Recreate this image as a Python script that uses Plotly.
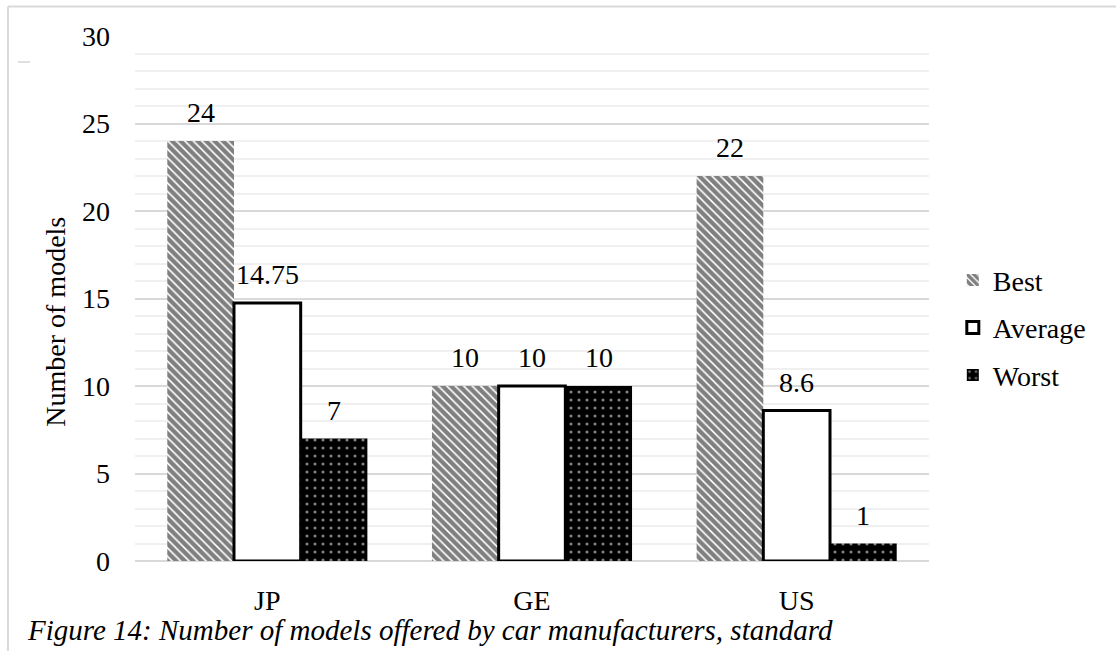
import plotly.graph_objects as go

categories = ["JP", "GE", "US"]
best = [24, 10, 22]
average = [14.75, 10, 8.6]
worst = [7, 10, 1]
series_names = ["Best", "Average", "Worst"]
caption = "Figure 14: Number of models offered by car manufacturers, standard"
y_title = "Number of models"

FONT = "Liberation Serif, Tinos, Nimbus Roman, Noto Serif, DejaVu Serif"
FS = 28

fig = go.Figure()
fig.add_trace(go.Bar(
    name=series_names[0], x=categories, y=best, legendgroup="a",
    marker=dict(color="white", line=dict(width=0),
                pattern=dict(shape="\\", fgcolor="black", bgcolor="white",
                             size=6, solidity=0.72, fillmode="overlay")),
))
fig.add_trace(go.Bar(
    name=series_names[1], x=categories, y=average, legendgroup="b",
    marker=dict(color="white", line=dict(color="black", width=3)),
))
fig.add_trace(go.Bar(
    name=series_names[2], x=categories, y=worst, legendgroup="c",
    marker=dict(color="black", line=dict(width=0),
                pattern=dict(shape=".", fgcolor="white", bgcolor="black",
                             size=8, solidity=0.12, fillmode="overlay")),
))

# data labels
bar_w = 794 / 3 * (1 - 0.244) / 3
annotations = []
for i, vals in enumerate([best, average, worst]):
    for c, v in zip(categories, vals):
        annotations.append(dict(
            x=c, y=v, xref="x", yref="y", text=str(v), showarrow=False,
            xshift=(i - 1) * bar_w, yshift=11, yanchor="bottom",
            font=dict(family=FONT, size=FS, color="black")))

annotations.append(dict(
    x=-0.1, y=0.455, xref="paper", yref="paper", text=y_title,
    textangle=-90, showarrow=False, xanchor="center", yanchor="middle",
    font=dict(family=FONT, size=FS, color="black")))
annotations.append(dict(
    x=-0.1385, y=-0.165, xref="paper", yref="paper",
    text="<i>" + caption + "</i>", showarrow=False,
    xanchor="left", yanchor="bottom",
    font=dict(family=FONT, size=29, color="black")))

shapes = [
    dict(type="line", xref="paper", yref="paper", x0=-0.16, x1=1.3,
         y0=1.0562, y1=1.0562, line=dict(color="#d9d9d9", width=2)),
    dict(type="line", xref="paper", yref="paper", x0=-0.16, x1=-0.16,
         y0=1.0562, y1=-0.2, line=dict(color="#d9d9d9", width=2)),
    dict(type="line", xref="paper", yref="paper", x0=-0.1474, x1=-0.1322,
         y0=0.9505, y1=0.9505, line=dict(color="#bfbfbf", width=1)),
]

fig.update_layout(
    width=1116, height=651,
    margin=dict(l=135, r=187, t=36, b=90, autoexpand=False),
    paper_bgcolor="white", plot_bgcolor="white",
    barmode="group", bargap=0.244, bargroupgap=0,
    font=dict(family=FONT, size=FS, color="black"),
    showlegend=True,
    legend=dict(x=1.03, y=0.444, xanchor="left", yanchor="middle",
                traceorder="grouped", tracegroupgap=8,
                font=dict(family=FONT, size=FS, color="black"),
                bgcolor="rgba(0,0,0,0)"),
    annotations=annotations,
    shapes=shapes,
)
fig.update_yaxes(
    range=[0, 30], dtick=5, showgrid=True, gridcolor="#d9d9d9", gridwidth=2,
    minor=dict(dtick=1, showgrid=True, gridcolor="#f0f0f0", gridwidth=2),
    zeroline=True, zerolinecolor="#d9d9d9", zerolinewidth=2,
    showline=False, ticks="", ticklabelstandoff=24,
    tickfont=dict(family=FONT, size=FS, color="black"),
)
fig.update_xaxes(
    showgrid=False, showline=False, ticks="", ticklabelstandoff=20,
    tickfont=dict(family=FONT, size=FS, color="black"),
)

fig.write_html("out.html")
